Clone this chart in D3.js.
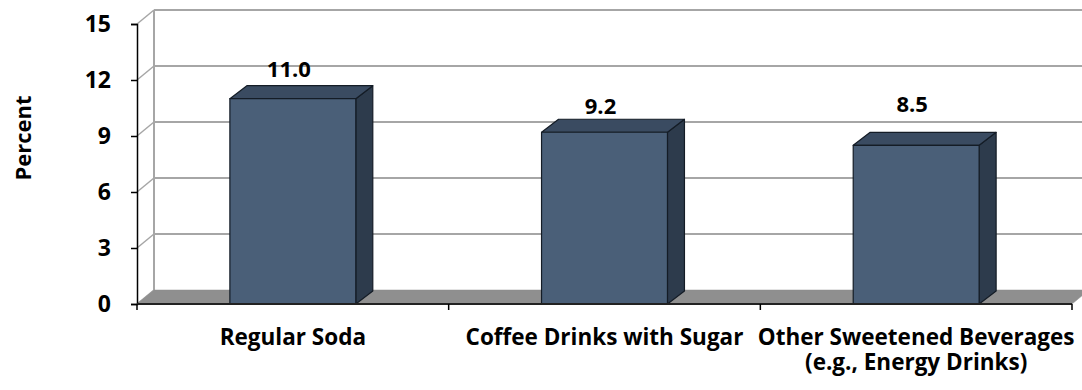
<!DOCTYPE html>
<html>
<head>
<meta charset="utf-8">
<script src="https://cdn.jsdelivr.net/npm/d3@7/dist/d3.min.js"></script>
<style>
  html, body { margin: 0; padding: 0; background: #fff; }
  svg { display: block; }
  text { font-family: "Open Sans", Lato, sans-serif; font-weight: bold; fill: #000; }
</style>
</head>
<body>
<svg id="chart" width="1082" height="390"></svg>
<script>
// Beverage categories and their percentages
const categories = ["Regular Soda", "Coffee Drinks with Sugar", "Other Sweetened Beverages\n(e.g., Energy Drinks)"];
const values = [11.0, 9.2, 8.5];
const valueLabels = ["11.0", "9.2", "8.5"];
const yTicks = [0, 3, 6, 9, 12, 15];
const yTitle = "Percent";

(function () {
const svg = d3.select("#chart");
const W = 1082;
const fontPx = "22px";

// plot frame (front plane) and 3-D depth offsets
const plotLeft = 137, plotRight = 1072, plotBottom = 304, plotTop = 24;
const wallDx = 17, wallDy = -14;      // depth of walls / floor
const barDx = 17, barDy = -13;        // depth of each bar

const y = d3.scaleLinear().domain([0, 15]).range([plotBottom, plotTop]);
const x = d3.scaleBand().domain(categories).range([plotLeft, plotRight])
  .paddingInner(0.596).paddingOuter(0.298);
const step = x.step();

const gridColor = "#a6a6a6";

// ---- back wall gridlines and side-wall diagonals ----
const walls = svg.append("g");
yTicks.forEach(t => {
  const yy = y(t);
  if (t > 0) {
    walls.append("line")
      .attr("x1", plotLeft + wallDx).attr("x2", W + 20)
      .attr("y1", yy + wallDy).attr("y2", yy + wallDy)
      .attr("stroke", gridColor).attr("stroke-width", 2);
  }
  walls.append("line")
    .attr("x1", plotLeft).attr("y1", yy)
    .attr("x2", plotLeft + wallDx).attr("y2", yy + wallDy)
    .attr("stroke", gridColor).attr("stroke-width", 1.5);
});
// back wall left edge
walls.append("line")
  .attr("x1", plotLeft + wallDx).attr("x2", plotLeft + wallDx)
  .attr("y1", y(15) + wallDy).attr("y2", y(0) + wallDy)
  .attr("stroke", gridColor).attr("stroke-width", 2);

// ---- floor ----
svg.append("path")
  .attr("d", `M${plotLeft},${y(0)} L${plotRight},${y(0)} L${plotRight + wallDx},${y(0) + wallDy} L${plotLeft + wallDx},${y(0) + wallDy} Z`)
  .attr("fill", "#8f8f8f").attr("stroke", "#8f8f8f").attr("stroke-width", 0.5);

// ---- bars (front, top, side faces) ----
const bars = svg.append("g");
const bw = x.bandwidth();
categories.forEach((c, i) => {
  const x0 = x(c), x1 = x0 + bw;
  const yT = y(values[i]), yB = y(0);
  const g = bars.append("g").attr("stroke", "#141c26").attr("stroke-width", 1.2).attr("stroke-linejoin", "round");
  // side face
  g.append("path")
    .attr("d", `M${x1},${yT} L${x1 + barDx},${yT + barDy} L${x1 + barDx},${yB + barDy} L${x1},${yB} Z`)
    .attr("fill", "#2d3b4c");
  // top face
  g.append("path")
    .attr("d", `M${x0},${yT} L${x0 + barDx},${yT + barDy} L${x1 + barDx},${yT + barDy} L${x1},${yT} Z`)
    .attr("fill", "#3a4b61");
  // front face
  g.append("rect")
    .attr("x", x0).attr("y", yT).attr("width", bw).attr("height", yB - yT)
    .attr("fill", "#4a5f78");
});

// value labels above each bar
const labelNudge = [-2, 2, -13];
categories.forEach((c, i) => {
  svg.append("text")
    .attr("x", x(c) + bw / 2 - 4)
    .attr("y", y(values[i]) + barDy - 7 + labelNudge[i])
    .attr("text-anchor", "middle")
    .style("font-size", fontPx)
    .text(valueLabels[i]);
});

// ---- y axis ----
const yAxis = svg.append("g")
  .attr("transform", `translate(${plotLeft},0)`)
  .call(d3.axisLeft(y).tickValues(yTicks).tickSize(6).tickPadding(20).tickFormat(d3.format("d")));
yAxis.attr("font-family", null).attr("font-size", null);
yAxis.select(".domain").attr("stroke", "#000").attr("stroke-width", 1.5);
yAxis.selectAll(".tick line").attr("stroke", "#000").attr("stroke-width", 1.5);
yAxis.selectAll(".tick text").style("font-size", "23px");

// ---- x axis ----
svg.append("line")
  .attr("x1", plotLeft).attr("x2", plotRight).attr("y1", plotBottom).attr("y2", plotBottom)
  .attr("stroke", "#222").attr("stroke-width", 2);
const boundaries = d3.range(categories.length + 1).map(k => plotLeft + k * step);
svg.selectAll(".xtick").data(boundaries).join("line")
  .attr("class", "xtick")
  .attr("x1", d => d).attr("x2", d => d)
  .attr("y1", plotBottom).attr("y2", plotBottom + 6)
  .attr("stroke", "#000").attr("stroke-width", 1.5);

const xl = svg.append("g");
categories.forEach(c => {
  const lines = c.split("\n");
  const t = xl.append("text")
    .attr("x", x(c) + bw / 2)
    .attr("y", 345)
    .attr("text-anchor", "middle")
    .style("font-size", "22.5px");
  lines.forEach((ln, k) => {
    t.append("tspan").attr("x", x(c) + bw / 2).attr("dy", k === 0 ? 0 : 25).text(ln);
  });
});

// y axis title
svg.append("text")
  .attr("transform", "translate(31,138) rotate(-90)")
  .attr("text-anchor", "middle")
  .style("font-size", fontPx)
  .text(yTitle);
})();
</script>
</body>
</html>
